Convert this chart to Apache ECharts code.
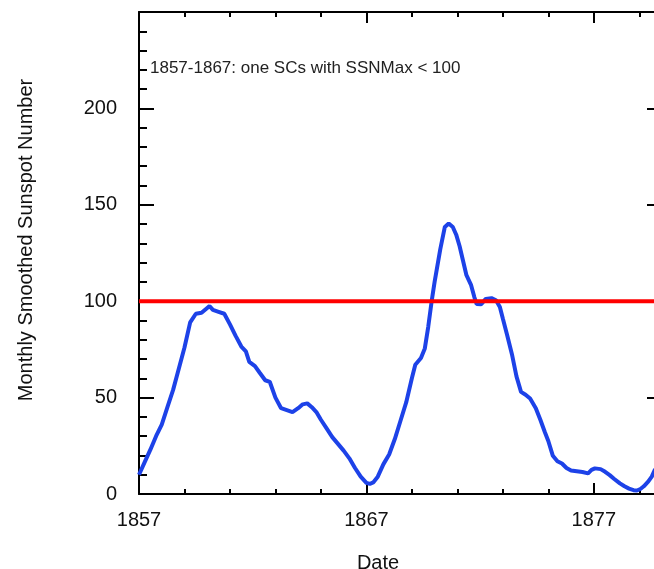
<!DOCTYPE html>
<html>
<head>
<meta charset="utf-8">
<script src="https://cdn.jsdelivr.net/npm/echarts@6/dist/echarts.min.js"></script>
<style>
  html, body { margin: 0; padding: 0; background: #fff; }
  #chart { width: 654px; height: 569px; }
</style>
</head>
<body>
<div id="chart"></div>
<script>
// monthly smoothed sunspot number
const years = [
  1857.00, 1857.25, 1857.50, 1857.75, 1858.00, 1858.25, 1858.50, 1858.75,
  1859.00, 1859.25, 1859.50, 1859.75, 1860.00, 1860.10, 1860.25, 1860.50,
  1860.75, 1861.00, 1861.25, 1861.50, 1861.70, 1861.85, 1862.10, 1862.30,
  1862.55, 1862.75, 1863.00, 1863.25, 1863.50, 1863.75, 1864.00, 1864.20,
  1864.40, 1864.60, 1864.80, 1865.00, 1865.25, 1865.50, 1865.75, 1866.00,
  1866.25, 1866.50, 1866.75, 1867.00, 1867.15, 1867.30, 1867.50, 1867.75,
  1868.00, 1868.25, 1868.50, 1868.75, 1869.00, 1869.15, 1869.40, 1869.57,
  1869.72, 1869.87, 1870.00, 1870.25, 1870.45, 1870.62, 1870.80, 1870.95,
  1871.10, 1871.25, 1871.40, 1871.60, 1871.75, 1871.85, 1872.05, 1872.25,
  1872.50, 1872.70, 1872.87, 1873.00, 1873.20, 1873.40, 1873.60, 1873.80,
  1874.00, 1874.20, 1874.45, 1874.65, 1874.85, 1875.00, 1875.20, 1875.40,
  1875.60, 1875.80, 1876.00, 1876.25, 1876.50, 1876.75, 1876.90, 1877.05,
  1877.30, 1877.50, 1877.70, 1877.90, 1878.15, 1878.35, 1878.55, 1878.75,
  1878.90, 1879.05, 1879.20, 1879.40, 1879.55, 1879.70
];
const ssn = [
  10.0, 16.5, 23.0, 30.0, 36.0, 45.0, 54.0, 65.0,
  76.0, 89.0, 93.5, 94.0, 96.5, 97.5, 95.5, 94.5,
  93.5, 88.0, 82.0, 76.5, 74.0, 68.5, 66.3, 63.0,
  59.0, 58.2, 50.0, 44.5, 43.5, 42.5, 44.5, 46.5,
  47.0, 45.0, 42.5, 38.5, 34.0, 29.5, 26.0, 22.5,
  18.5, 13.5, 9.0, 5.8, 5.2, 6.0, 9.0, 15.5,
  20.5, 28.5, 38.0, 47.5, 60.0, 67.0, 70.5, 75.5,
  86.7, 100.0, 110.0, 127.0, 138.5, 140.3, 138.5, 134.5,
  128.5, 121.0, 113.5, 108.5, 102.0, 98.5, 98.4, 101.2,
  101.6, 100.5, 97.0, 91.0, 82.0, 72.5, 61.0, 53.0,
  51.5, 49.5, 44.5, 38.5, 32.0, 27.5, 19.8, 17.0,
  15.8, 13.5, 12.2, 11.8, 11.4, 10.7, 12.5, 13.3,
  12.9, 11.5, 9.8, 7.8, 5.5, 4.0, 2.8, 2.0,
  1.8, 2.6, 4.0, 6.5, 9.0, 13.0
];
// reference level
const refYears = [1857, 1880];
const refLevel = 100;
const note = '1857-1867: one SCs with SSNMax < 100';

const font = 'Liberation Sans, Arial, sans-serif';
const black = { color: '#000', width: 2 };

function xAx(pos, interval, tickLen, withLabels) {
  return {
    type: 'value', position: pos, min: 1857, max: 1880, interval: interval,
    axisLine: { show: interval === 10, onZero: false, lineStyle: black },
    axisTick: { show: true, inside: true, length: tickLen, lineStyle: black },
    axisLabel: {
      show: withLabels, margin: 16, fontSize: 20, color: '#111', fontFamily: font,
      showMaxLabel: false, formatter: v => String(v)
    },
    splitLine: { show: false }
  };
}
function yAx(pos, withLabels) {
  return {
    type: 'value', position: pos, min: 0, max: 250, interval: 50,
    axisLine: { show: true, onZero: false, lineStyle: black },
    axisTick: { show: true, inside: true, length: 15, lineStyle: black },
    minorTick: { show: true, splitNumber: 5, length: 8, lineStyle: black },
    axisLabel: {
      show: withLabels, margin: 22, fontSize: 20, color: '#111', fontFamily: font,
      showMaxLabel: false
    },
    splitLine: { show: false }
  };
}

const xBottom = xAx('bottom', 10, 11, true);
xBottom.name = 'Date';
xBottom.nameLocation = 'middle';
xBottom.nameGap = 59;
xBottom.nameTextStyle = { fontSize: 20, color: '#111', fontFamily: font, padding: [0, 45, 0, 0] };

const yLeft = yAx('left', true);
yLeft.name = 'Monthly Smoothed Sunspot Number';
yLeft.nameLocation = 'middle';
yLeft.nameGap = 103;
yLeft.nameTextStyle = { fontSize: 20, color: '#111', fontFamily: font, padding: [0, 0, 0, 26] };

const chart = echarts.init(document.getElementById('chart'), null, { renderer: 'canvas' });
chart.setOption({
  animation: false,
  backgroundColor: '#fff',
  grid: { left: 139, top: 12, width: 523, height: 482, containLabel: false, outerBoundsMode: 'none' },
  xAxis: [
    xBottom,
    xAx('bottom', 2, 5, false),
    xAx('top', 10, 11, false),
    xAx('top', 2, 5, false)
  ],
  yAxis: [yLeft, yAx('right', false)],
  graphic: [{
    type: 'text', left: 150, top: 60,
    style: { text: note, fontSize: 17, fill: '#222', fontFamily: font }
  }],
  series: [
    {
      type: 'line',
      data: years.map((y, i) => [y, ssn[i]]),
      showSymbol: false,
      smooth: false,
      lineStyle: { color: '#1d42e8', width: 4 },
      z: 2
    },
    {
      type: 'line',
      data: refYears.map(y => [y, refLevel]),
      showSymbol: false,
      lineStyle: { color: '#ff0000', width: 4 },
      z: 3
    }
  ]
});
</script>
</body>
</html>
